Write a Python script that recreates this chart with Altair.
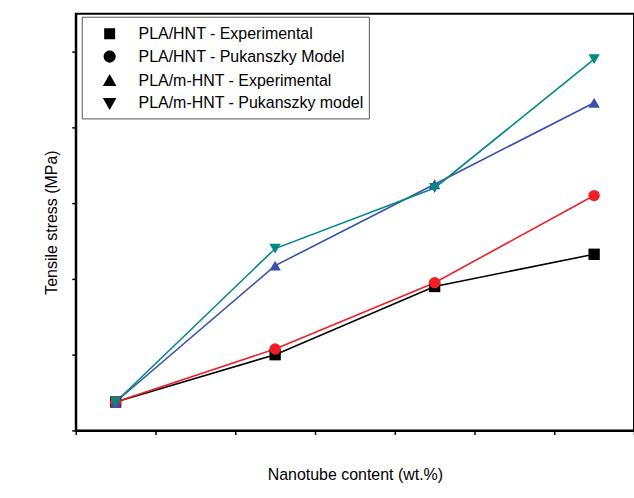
import altair as alt
import pandas as pd

content = [0, 2, 4, 6]
series_names = [
    "PLA/HNT - Experimental",
    "PLA/HNT - Pukanszky Model",
    "PLA/m-HNT - Experimental",
    "PLA/m-HNT - Pukanszky model",
]
hnt_exp = [54.5, 57.0, 60.6, 62.3]
hnt_puk = [54.5, 57.3, 60.8, 65.4]
mhnt_exp = [54.5, 61.7, 66.0, 70.3]
mhnt_puk = [54.5, 62.6, 65.8, 72.6]
colors = ["#000000", "#ee2026", "#3a4fae", "#008a80"]
shapes = ["square", "circle", "triangle-up", "triangle-down"]
legend_paths = [
    "M-1,0H3M0.5,-0.5H1.5V0.5H0.5Z",
    "M-1,0H3M0.45,0A0.55,0.55,0,1,0,1.55,0A0.55,0.55,0,1,0,0.45,0Z",
    "M-1,0H3M1,-0.6L1.62,0.5L0.38,0.5Z",
    "M-1,0H3M1,0.6L1.62,-0.5L0.38,-0.5Z",
]

rows = []
for name, vals in zip(series_names, [hnt_exp, hnt_puk, mhnt_exp, mhnt_puk]):
    for i, (x, y) in enumerate(zip(content, vals)):
        rows.append({"series": name, "x": x, "y": y, "order": i})
df = pd.DataFrame(rows)

font = "Liberation Sans"
x_ticks = [v / 2 for v in range(-1, 14)]
y_ticks = list(range(53, 76))

x_enc = alt.X(
    "x:Q",
    scale=alt.Scale(domain=[-0.5, 6.5], nice=False, zero=False),
    axis=alt.Axis(
        title="Nanotube content (wt.%)",
        values=x_ticks,
        labelExpr="datum.value % 1 === 0 ? format(datum.value, 'd') : ''",
        tickSize={"condition": {"test": "datum.value % 1 === 0", "value": 7}, "value": 4},
        grid=False,
        domainColor="black",
        domainWidth=2,
        tickColor="black",
        tickWidth=1.5,
        labelFont=font,
        labelFontSize=17,
        labelColor="black",
        labelPadding=6,
        titleFont=font,
        titleFontSize=16,
        titleFontWeight="normal",
        titleColor="black",
        titlePadding=10,
        labelFlush=False,
    ),
)
y_enc = alt.Y(
    "y:Q",
    scale=alt.Scale(domain=[53, 75], nice=False, zero=False),
    axis=alt.Axis(
        title="Tensile stress (MPa)",
        values=y_ticks,
        labelExpr="datum.value % 2 === 0 && datum.value >= 54 && datum.value <= 74 ? format(datum.value, 'd') : ''",
        tickSize={"condition": {"test": "datum.value % 2 === 0", "value": 7}, "value": 4},
        grid=False,
        domainColor="black",
        domainWidth=2,
        tickColor="black",
        tickWidth=1.5,
        labelFont=font,
        labelFontSize=17,
        labelColor="black",
        labelPadding=4,
        titleFont=font,
        titleFontSize=16,
        titleFontWeight="normal",
        titleColor="black",
        titlePadding=8,
        labelFlush=False,
    ),
)

color_scale = alt.Scale(domain=series_names, range=colors)

lines = alt.Chart(df).mark_line(strokeWidth=1.6).encode(
    x=x_enc,
    y=y_enc,
    color=alt.Color("series:N", scale=color_scale, legend=None),
    order="order:Q",
)

points = alt.Chart(df).mark_point(filled=True, size=130, opacity=1).encode(
    x="x:Q",
    y="y:Q",
    color=alt.Color("series:N", scale=color_scale, legend=None),
    shape=alt.Shape("series:N", scale=alt.Scale(domain=series_names, range=shapes), legend=None),
)

legend_layer = alt.Chart(df).mark_point(filled=True, size=484, opacity=0).encode(
    x="x:Q",
    y="y:Q",
    fill=alt.Fill(
        "series:N",
        scale=alt.Scale(domain=series_names, range=colors),
        legend=alt.Legend(
            title=None,
            orient="none",
            legendX=6,
            legendY=3,
            symbolOpacity=1,
            symbolStrokeWidth=1.6,
            symbolSize=484,
            labelFont=font,
            labelFontSize=16,
            labelColor="black",
            labelOffset=28,
            rowPadding=2,
            padding=5,
            strokeColor="#555555",
            fillColor="white",
            labelLimit=400,
        ),
    ),
    stroke=alt.Stroke(
        "series:N",
        scale=alt.Scale(domain=series_names, range=colors),
        legend=alt.Legend(
            title=None,
            orient="none",
            legendX=6,
            legendY=3,
            symbolOpacity=1,
            symbolStrokeWidth=1.6,
            symbolSize=484,
            labelFont=font,
            labelFontSize=16,
            labelColor="black",
            labelOffset=28,
            rowPadding=2,
            padding=5,
            strokeColor="#555555",
            fillColor="white",
            labelLimit=400,
        ),
    ),
    shape=alt.Shape(
        "series:N",
        scale=alt.Scale(domain=series_names, range=legend_paths),
        legend=alt.Legend(
            title=None,
            orient="none",
            legendX=6,
            legendY=3,
            symbolOpacity=1,
            symbolStrokeWidth=1.6,
            symbolSize=484,
            labelFont=font,
            labelFontSize=16,
            labelColor="black",
            labelOffset=28,
            rowPadding=2,
            padding=5,
            strokeColor="#555555",
            fillColor="white",
            labelLimit=400,
        ),
    ),
)

chart = (
    alt.layer(lines, points, legend_layer)
    .resolve_scale(shape="independent")
    .properties(
        width=560,
        height=418,
        autosize=alt.AutoSizeParams(type="none"),
        padding={"left": 76, "top": 13, "right": 0, "bottom": 67},
        background="white",
    )
    .configure_view(stroke="black", strokeWidth=2)
)

chart.save("out.html", embed_options={"renderer": "svg", "actions": False})
